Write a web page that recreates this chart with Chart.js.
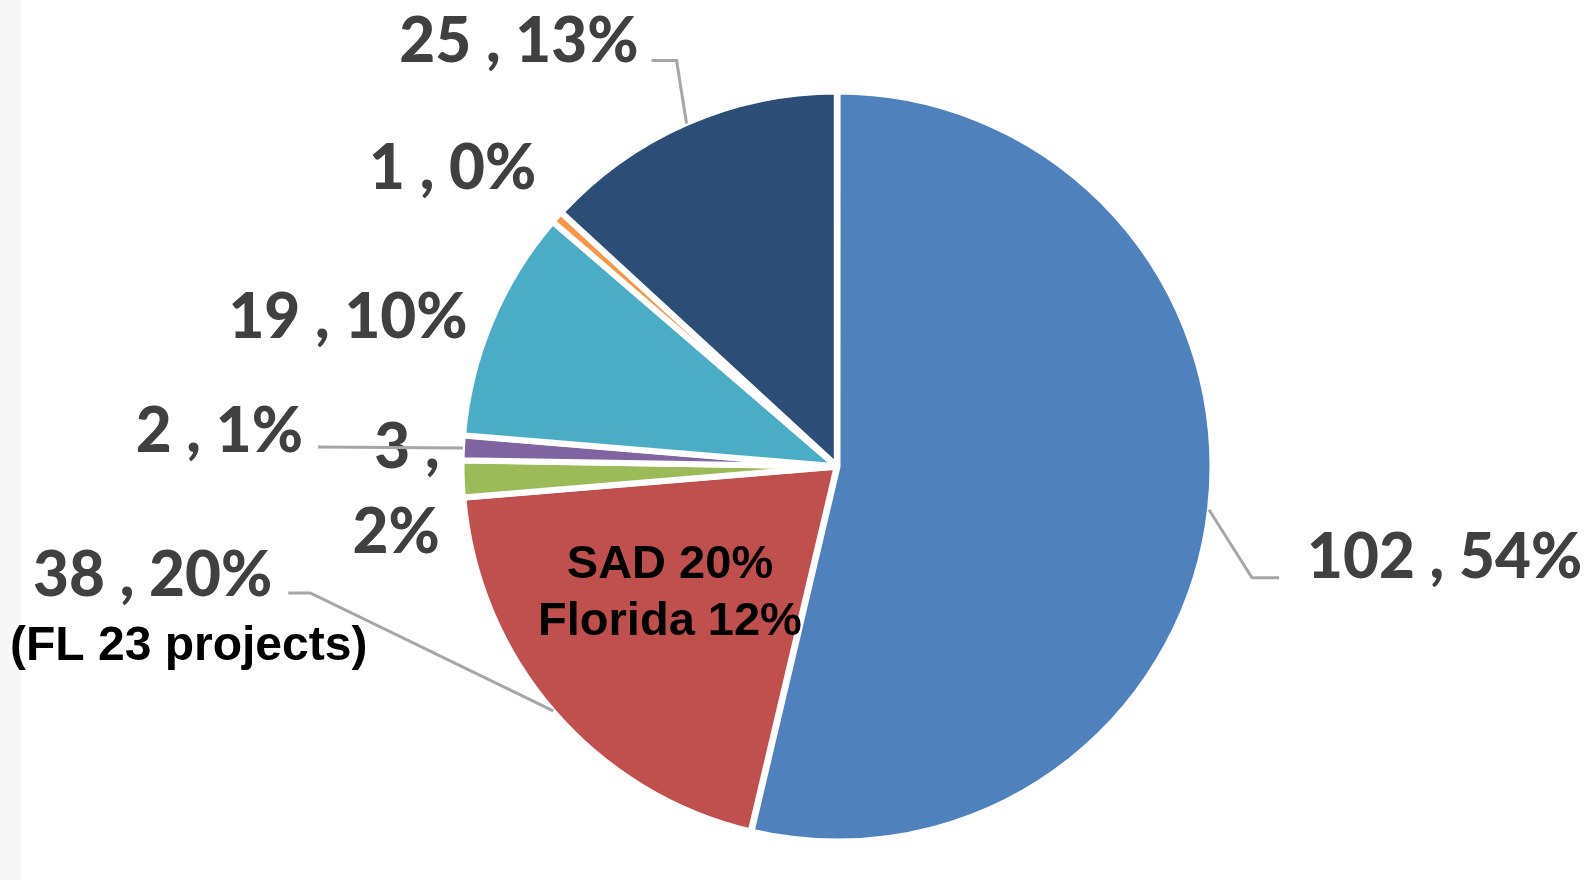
<!DOCTYPE html>
<html>
<head>
<meta charset="utf-8">
<script src="https://cdn.jsdelivr.net/npm/chart.js@4.4.1/dist/chart.umd.min.js"></script>
<style>
  html, body { margin: 0; padding: 0; }
  body {
    width: 1594px; height: 880px; overflow: hidden;
    background: linear-gradient(to right, #f7f7f7 0, #f7f7f7 21px, #ffffff 21px);
  }
  #wrap { position: relative; width: 1594px; height: 880px; }
</style>
</head>
<body>
<div id="wrap"><canvas id="chart"></canvas></div>
<script>
// slices, clockwise from 12 o'clock
const categories = ['Slice 1', 'Slice 2', 'Slice 3', 'Slice 4', 'Slice 5', 'Slice 6', 'Slice 7'];
const counts = [102, 38, 3, 2, 19, 1, 25];
const percentLabels = [54, 20, 2, 1, 10, 0, 13];   // as printed on the chart
const sliceColors = ['#4f81bd', '#c0504d', '#9bbb59', '#8064a2', '#4bacc6', '#f79646', '#2c4d75'];
const redNote = ['SAD 20%', 'Florida 12%'];
const redSubLabel = '(FL 23 projects)';

// label placement relative to the slice rim point (mid angle), dy = baseline
const labelLayout = [
  { dx: 98, dy: 68, align: 'left', leader: [[43, 68], [70, 68]] },
  { dx: -281, dy: -115, align: 'right', leader: [[-243, -118], [-265, -118]] },
  { dx: -23, dy: -11, align: 'right', split: 85 },
  { dx: -160, dy: 4, align: 'right', leader: [[-145, -1]] },
  { dx: -24, dy: 16, align: 'right' },
  { dx: -21, dy: -28, align: 'right' },
  { dx: -48, dy: -62, align: 'right', leader: [[-10, -63], [-35, -63]] }
];

const labelPlugin = {
  id: 'sliceLabels',
  afterDatasetsDraw(chart) {
    const ctx = chart.ctx;
    const arcs = chart.getDatasetMeta(0).data;
    ctx.save();
    arcs.forEach((arc, i) => {
      const a = (arc.startAngle + arc.endAngle) / 2;
      const px = arc.x + Math.cos(a) * arc.outerRadius;
      const py = arc.y + Math.sin(a) * arc.outerRadius;
      const lay = labelLayout[i];

      if (lay.leader) {
        ctx.strokeStyle = '#a6a6a6';
        ctx.lineWidth = 3;
        ctx.beginPath();
        ctx.moveTo(px, py);
        lay.leader.forEach(p => ctx.lineTo(px + p[0], py + p[1]));
        ctx.stroke();
      }

      ctx.fillStyle = '#404040';
      ctx.font = '900 62px Lato';
      ctx.textAlign = lay.align;
      ctx.textBaseline = 'alphabetic';
      if (lay.split) {
        ctx.fillText(counts[i] + ' ,', px + lay.dx, py + lay.dy);
        ctx.fillText(percentLabels[i] + '%', px + lay.dx, py + lay.dy + lay.split);
      } else {
        ctx.fillText(counts[i] + ' , ' + percentLabels[i] + '%', px + lay.dx, py + lay.dy);
      }
    });

    // notes on the red slice
    const red = arcs[1];
    ctx.fillStyle = '#000000';
    ctx.font = 'bold 47px "Liberation Sans", Arial, sans-serif';
    ctx.textAlign = 'center';
    ctx.fillText(redNote[0], red.x - 167, red.y + 111);
    ctx.fillText(redNote[1], red.x - 167, red.y + 168);
    ctx.textAlign = 'left';
    ctx.font = 'bold 48px "Liberation Sans", Arial, sans-serif';
    ctx.fillText(redSubLabel, 10, red.y + 193);
    ctx.restore();
  }
};

new Chart(document.getElementById('chart'), {
  type: 'pie',
  data: {
    labels: categories,
    datasets: [{
      data: counts,
      backgroundColor: sliceColors,
      borderColor: '#ffffff',
      borderWidth: 6,
      offset: 2
    }]
  },
  options: {
    responsive: true,
    maintainAspectRatio: false,
    animation: false,
    layout: { padding: { top: 88, bottom: 35, left: 80, right: 0 } },
    plugins: { legend: { display: false }, tooltip: { enabled: false } }
  },
  plugins: [labelPlugin]
});
</script>
</body>
</html>
